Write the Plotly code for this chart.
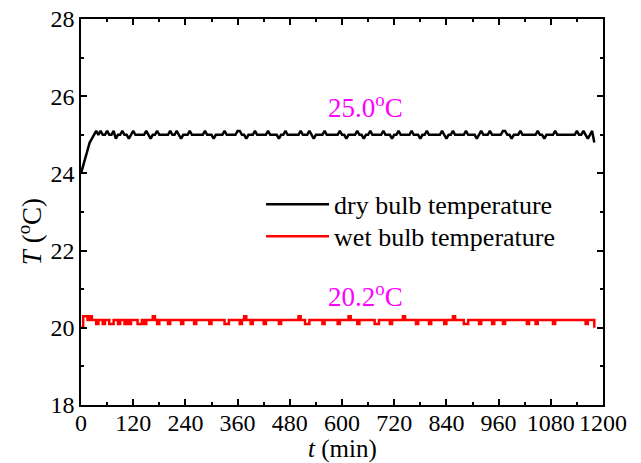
import plotly.graph_objects as go

# Time axis: readings every 5 minutes from 0 to 1180 min
t_min = list(range(0, 1185, 5))

dry_bulb = [
    24.0, 24.2, 24.4, 24.6, 24.8, 24.9, 25.0, 25.1, 25.0, 25.1,
    25.0, 25.0, 25.1, 25.0, 25.0, 25.1, 24.9, 25.0, 25.0, 25.1,
    25.0, 25.0, 24.9, 25.0, 25.1, 25.0, 25.0, 25.0, 25.0, 25.0,
    25.1, 25.0, 24.9, 25.0, 25.0, 25.1, 25.0, 25.0, 25.0, 25.0,
    25.0, 25.1, 25.0, 25.0, 25.1, 25.0, 24.9, 25.0, 25.0, 25.0,
    25.1, 25.0, 25.0, 25.0, 25.0, 25.0, 25.0, 25.1, 25.0, 25.0,
    25.0, 24.9, 25.0, 25.0, 25.0, 25.0, 25.1, 25.0, 25.0, 25.0,
    25.0, 25.0, 25.1, 25.1, 25.0, 25.0, 24.9, 25.0, 25.0, 25.0,
    25.1, 25.0, 25.0, 25.0, 25.0, 25.0, 25.1, 25.0, 25.0, 25.0,
    25.0, 24.9, 25.0, 25.0, 25.1, 25.0, 25.0, 25.0, 25.0, 25.0,
    25.0, 25.1, 25.0, 25.0, 25.0, 25.1, 25.0, 24.9, 25.0, 25.0,
    25.0, 25.0, 25.1, 25.0, 25.0, 25.0, 25.0, 25.0, 25.0, 25.1,
    25.0, 25.0, 24.9, 25.0, 25.0, 25.0, 25.0, 25.1, 25.0, 25.0,
    24.9, 25.0, 25.0, 25.1, 25.0, 25.0, 25.0, 25.0, 25.0, 25.1,
    25.0, 25.0, 25.0, 24.9, 25.0, 25.0, 25.1, 25.0, 25.0, 25.0,
    25.0, 25.0, 25.1, 25.0, 25.0, 25.0, 24.9, 25.0, 25.0, 25.1,
    25.0, 25.0, 25.0, 25.0, 25.0, 25.0, 25.1, 25.0, 24.9, 25.0,
    25.0, 25.1, 25.0, 25.0, 25.0, 25.0, 25.0, 25.1, 25.0, 25.0,
    25.0, 25.0, 24.9, 25.0, 25.1, 25.0, 25.0, 25.0, 25.1, 25.0,
    25.0, 25.0, 25.0, 25.0, 25.1, 25.1, 25.0, 25.0, 24.9, 25.0,
    25.0, 25.0, 25.1, 25.0, 25.0, 25.0, 25.0, 25.0, 25.0, 25.0,
    25.1, 25.0, 25.0, 24.9, 25.0, 25.0, 25.0, 25.0, 25.1, 25.0,
    25.0, 25.0, 25.0, 25.0, 25.0, 25.0, 25.0, 25.0, 25.1, 25.0,
    25.0, 25.1, 25.0, 24.9, 25.0, 25.1, 24.8,
]

wet_bulb = [
    20.0, 20.3, 20.3, 20.2, 20.3, 20.2, 20.2, 20.1, 20.2, 20.2,
    20.1, 20.2, 20.2, 20.1, 20.1, 20.2, 20.2, 20.1, 20.2, 20.2,
    20.1, 20.2, 20.1, 20.2, 20.2, 20.2, 20.1, 20.1, 20.2, 20.1,
    20.2, 20.2, 20.2, 20.3, 20.2, 20.1, 20.2, 20.2, 20.2, 20.2,
    20.1, 20.2, 20.2, 20.2, 20.2, 20.2, 20.1, 20.2, 20.2, 20.2,
    20.2, 20.2, 20.1, 20.2, 20.2, 20.2, 20.2, 20.2, 20.2, 20.1,
    20.2, 20.2, 20.2, 20.2, 20.2, 20.2, 20.1, 20.1, 20.2, 20.2,
    20.2, 20.2, 20.2, 20.1, 20.2, 20.3, 20.2, 20.2, 20.1, 20.2,
    20.2, 20.2, 20.2, 20.2, 20.1, 20.2, 20.2, 20.2, 20.2, 20.2,
    20.2, 20.1, 20.2, 20.2, 20.2, 20.2, 20.2, 20.2, 20.2, 20.2,
    20.3, 20.2, 20.2, 20.1, 20.1, 20.2, 20.2, 20.2, 20.2, 20.2,
    20.2, 20.1, 20.2, 20.2, 20.2, 20.2, 20.2, 20.2, 20.1, 20.2,
    20.2, 20.2, 20.2, 20.3, 20.2, 20.2, 20.2, 20.1, 20.2, 20.2,
    20.2, 20.2, 20.2, 20.2, 20.2, 20.1, 20.1, 20.2, 20.2, 20.2,
    20.2, 20.2, 20.1, 20.2, 20.2, 20.2, 20.2, 20.2, 20.3, 20.2,
    20.2, 20.2, 20.2, 20.2, 20.1, 20.2, 20.2, 20.2, 20.2, 20.2,
    20.1, 20.2, 20.2, 20.2, 20.2, 20.2, 20.2, 20.1, 20.2, 20.2,
    20.2, 20.3, 20.2, 20.2, 20.2, 20.2, 20.1, 20.1, 20.2, 20.2,
    20.2, 20.2, 20.2, 20.1, 20.2, 20.2, 20.2, 20.2, 20.2, 20.1,
    20.2, 20.2, 20.2, 20.2, 20.1, 20.2, 20.2, 20.2, 20.2, 20.2,
    20.2, 20.2, 20.2, 20.2, 20.2, 20.1, 20.2, 20.2, 20.2, 20.1,
    20.2, 20.2, 20.2, 20.2, 20.2, 20.2, 20.2, 20.1, 20.2, 20.2,
    20.2, 20.2, 20.2, 20.2, 20.2, 20.2, 20.2, 20.2, 20.2, 20.2,
    20.2, 20.2, 20.1, 20.2, 20.2, 20.2, 20.0,
]

x_ticks = list(range(0, 1201, 120))
y_ticks = list(range(18, 29, 2))

dry_mean = 25.0
wet_mean = 20.2

SERIF = "Liberation Serif"
TICK_SIZE = 24

fig = go.Figure()
fig.add_trace(go.Scatter(
    x=t_min, y=dry_bulb, mode="lines", name="dry bulb temperature",
    line=dict(color="black", width=2.5), legend="legend",
))
fig.add_trace(go.Scatter(
    x=t_min, y=wet_bulb, mode="lines", name="wet bulb temperature",
    line=dict(color="red", width=2.5, shape="hv"), legend="legend2",
))

axis_common = dict(
    showline=True, linecolor="black", linewidth=1.5, mirror="ticks",
    ticks="inside", ticklen=6, tickwidth=1.5, tickcolor="black",
    showgrid=False, zeroline=False, automargin=False,
    tickfont=dict(family=SERIF, size=TICK_SIZE, color="black"),
)

fig.update_xaxes(
    range=[0, 1200], tickvals=x_ticks, ticktext=[str(v) for v in x_ticks],
    minor=dict(ticks="inside", ticklen=3, tickwidth=1.5, tickcolor="black", dtick=60, tick0=0),
    ticklabelstandoff=-5,
    **axis_common,
)
fig.update_yaxes(
    range=[18, 28], tickvals=y_ticks, ticktext=[str(v) for v in y_ticks],
    minor=dict(ticks="inside", ticklen=3, tickwidth=1.5, tickcolor="black", dtick=1, tick0=18),
    **axis_common,
)

# axis titles
fig.add_annotation(
    xref="paper", yref="paper", x=0.5, y=-0.113, xanchor="center", yanchor="middle",
    text="<i>t</i> (min)", showarrow=False,
    font=dict(family=SERIF, size=25, color="black"),
)
fig.add_annotation(
    xref="paper", yref="paper", x=-0.098, y=0.45, xanchor="center", yanchor="middle",
    text="<i>T</i> (<sup>o</sup>C)", textangle=-90, showarrow=False,
    font=dict(family=SERIF, size=27, color="black"),
)

# mean value labels
for val, ypos in ((dry_mean, dry_mean + 0.75), (wet_mean, wet_mean + 0.65)):
    fig.add_annotation(
        x=655, y=ypos, text=f"{val:.1f}<sup>o</sup>C", showarrow=False,
        font=dict(family=SERIF, size=27, color="#FF00FF"),
    )

legend_style = dict(
    xanchor="left", yanchor="middle",
    bgcolor="rgba(0,0,0,0)", borderwidth=0,
    font=dict(family=SERIF, size=26, color="black"),
    itemwidth=63,
)

fig.update_layout(
    width=641, height=463,
    margin=dict(l=81, r=38, t=19, b=58),
    paper_bgcolor="white", plot_bgcolor="white",
    showlegend=True,
    legend=dict(x=0.345, y=0.52, **legend_style),
    legend2=dict(x=0.345, y=0.437, **legend_style),
)

fig.write_html("out.html")
